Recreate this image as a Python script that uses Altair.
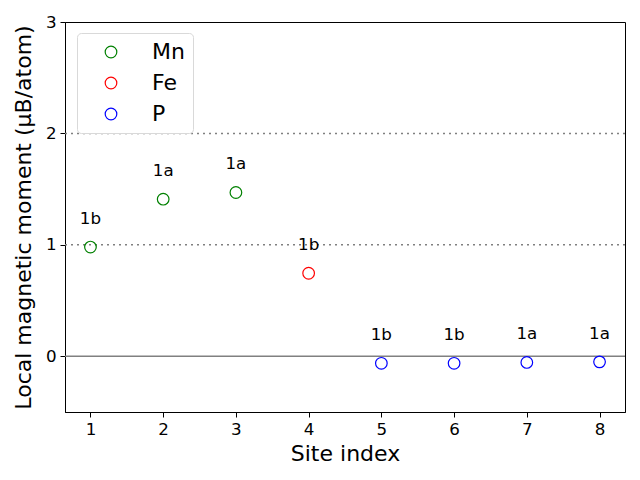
import altair as alt
import pandas as pd

sites = [1, 2, 3, 4, 5, 6, 7, 8]
moments = [0.98, 1.41, 1.47, 0.745, -0.063, -0.063, -0.055, -0.05]
elements = ["Mn", "Mn", "Mn", "Fe", "P", "P", "P", "P"]
wyckoff = ["1b", "1a", "1a", "1b", "1b", "1b", "1a", "1a"]

elem_domain = ["Mn", "Fe", "P"]
elem_colors = ["green", "red", "blue"]

dotted_levels = [1, 2]
zero_level = [0]
y_ticks = [0, 1, 2, 3]

df = pd.DataFrame({"site": sites, "moment": moments, "element": elements, "label": wyckoff})
dot_df = pd.DataFrame({"y": dotted_levels})
zero_df = pd.DataFrame({"y": zero_level})

FONT = "DejaVu Sans"

xscale = alt.Scale(domain=[0.65, 8.35], nice=False, zero=False)
yscale = alt.Scale(domain=[-0.5, 3], nice=False, zero=False)

common = dict(grid=False, labelFontSize=16.7, titleFontSize=22, titleFontWeight="normal",
              tickSize=5, tickWidth=1, domainColor="black", tickColor="black",
              labelColor="black", titleColor="black", labelFont=FONT, titleFont=FONT,
              format="d")
xaxis = alt.Axis(values=sites, title="Site index", labelPadding=4, titlePadding=6, **common)
yaxis = alt.Axis(values=y_ticks, title="Local magnetic moment (μB/atom)", labelPadding=4,
                 titlePadding=10, **common)

dots = alt.Chart(dot_df).mark_rule(color="gray", strokeDash=[2, 4], strokeWidth=1.5).encode(
    y=alt.Y("y:Q", scale=yscale)
)
zero = alt.Chart(zero_df).mark_rule(color="gray", strokeWidth=1.5).encode(
    y=alt.Y("y:Q", scale=yscale)
)

points = alt.Chart(df).mark_point(filled=False, size=135, strokeWidth=1.2, shape="circle", opacity=1).encode(
    x=alt.X("site:Q", scale=xscale, axis=xaxis),
    y=alt.Y("moment:Q", scale=yscale, axis=yaxis),
    color=alt.Color("element:N", scale=alt.Scale(domain=elem_domain, range=elem_colors),
                    sort=elem_domain,
                    legend=alt.Legend(title=None, orient="none", legendX=12, legendY=11,
                                      labelFontSize=22, labelFont=FONT, labelColor="black",
                                      symbolSize=135, symbolStrokeWidth=1.2, symbolType="circle",
                                      symbolFillColor="transparent", symbolOffset=15,
                                      rowPadding=9, labelOffset=30, padding=8,
                                      strokeColor="#d9d9d9", cornerRadius=4, fillColor="white",
                                      offset=0)),
)

texts = alt.Chart(df).mark_text(fontSize=16.7, font=FONT, color="black", dy=-28).encode(
    x=alt.X("site:Q", scale=xscale),
    y=alt.Y("moment:Q", scale=yscale),
    text="label:N",
)

chart = alt.layer(dots, zero, points, texts).properties(
    width=560, height=390,
    padding={"left": 65, "top": 22, "right": 15, "bottom": 68},
    autosize=alt.AutoSizeParams(type="none"),
    background="white",
).configure_view(stroke="black", strokeWidth=1)

chart.save("out.html", embed_options={"renderer": "svg", "actions": False})
